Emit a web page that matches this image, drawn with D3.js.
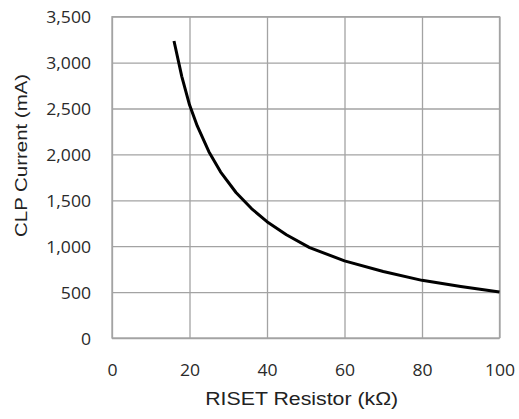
<!DOCTYPE html>
<html>
<head>
<meta charset="utf-8">
<script src="https://cdn.jsdelivr.net/npm/d3@7"></script>
<style>
  html, body { margin: 0; padding: 0; background: #fff; }
  svg { display: block; }
</style>
</head>
<body>
<svg id="chart" width="519" height="419"></svg>
<script>
// RISET resistor (kΩ) vs. current-limit (CLP) current (mA)
const resistorK = [16, 18, 20, 22, 25, 28, 32, 36, 40, 45, 51, 60, 70, 80, 90, 100];
const clpCurrent = [3235, 2850, 2540, 2310, 2030, 1810, 1585, 1410, 1267, 1125, 985, 840, 725, 628, 560, 500];
const xTicks = [0, 20, 40, 60, 80, 100];
const yTicks = [0, 500, 1000, 1500, 2000, 2500, 3000, 3500];
const xTitle = "RISET Resistor (kΩ)";
const yTitle = "CLP Current (mA)";

const svg = d3.select("#chart");
const plotLeft = 112, plotRight = 499.5, plotTop = 16.7, plotBottom = 338;
const w = plotRight - plotLeft, h = plotBottom - plotTop;

const x = d3.scaleLinear().domain([0, 100]).range([0, w]);
const y = d3.scaleLinear().domain([0, 3500]).range([h, 0]);

const g = svg.append("g").attr("transform", `translate(${plotLeft},${plotTop})`);

const gridColor = "#a3a3a3";
const tickFont = "'Open Sans', sans-serif";
const tickSize = 16;
const stretch = 1.1;

// Horizontal gridlines + y tick labels
const yAxis = g.append("g")
  .call(d3.axisLeft(y).tickValues(yTicks).tickSize(-w).tickPadding(21)
    .tickFormat(d3.format(",")));
yAxis.select(".domain").remove();
yAxis.selectAll("line").attr("stroke", gridColor).attr("stroke-width", 1.3);
yAxis.selectAll("text")
  .attr("font-family", tickFont).attr("font-size", tickSize).attr("fill", "#2a2a2a")
  .attr("dy", "0.38em")
  .each(function () {
    const t = d3.select(this);
    const xv = +t.attr("x");
    t.attr("x", 0).attr("transform", `translate(${xv},0) scale(${stretch},1)`);
  });

// Vertical gridlines + x tick labels
const xAxis = g.append("g").attr("transform", `translate(0,${h})`)
  .call(d3.axisBottom(x).tickValues(xTicks).tickSize(-h).tickPadding(27));
xAxis.select(".domain").remove();
xAxis.selectAll("line").attr("stroke", gridColor).attr("stroke-width", 1.3);
xAxis.selectAll("text")
  .attr("font-family", tickFont).attr("font-size", tickSize).attr("fill", "#2a2a2a")
  .each(function () {
    const t = d3.select(this);
    const xv = +t.attr("x") || 0;
    t.attr("x", 0).attr("transform", `translate(${xv},0) scale(${stretch},1)`);
  });

// Plot border
g.append("rect")
  .attr("x", 0).attr("y", 0).attr("width", w).attr("height", h)
  .attr("fill", "none").attr("stroke", gridColor).attr("stroke-width", 1.3);

// Curve
const line = d3.line()
  .x((d, i) => x(resistorK[i]))
  .y(d => y(d));
g.append("path")
  .datum(clpCurrent)
  .attr("d", line)
  .attr("fill", "none")
  .attr("stroke", "#000")
  .attr("stroke-width", 3)
  .attr("stroke-linejoin", "round");

// Axis titles
svg.append("text")
  .attr("x", 301.7).attr("y", 405)
  .attr("text-anchor", "middle")
  .attr("font-family", "'Liberation Sans', Arial, sans-serif")
  .attr("font-size", 18).attr("fill", "#222")
  .attr("textLength", 193).attr("lengthAdjust", "spacingAndGlyphs")
  .text(xTitle);

svg.append("text")
  .attr("transform", "translate(27.3,155.4) rotate(-90)")
  .attr("text-anchor", "middle")
  .attr("font-family", "'Liberation Sans', Arial, sans-serif")
  .attr("font-size", 17).attr("fill", "#222")
  .attr("textLength", 163).attr("lengthAdjust", "spacingAndGlyphs")
  .text(yTitle);
</script>
</body>
</html>
